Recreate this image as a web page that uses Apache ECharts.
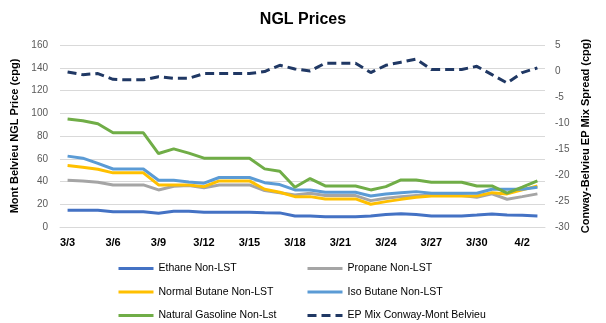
<!DOCTYPE html>
<html>
<head>
<meta charset="utf-8">
<script src="https://cdn.jsdelivr.net/npm/echarts@6/dist/echarts.min.js"></script>
<style>
html,body{margin:0;padding:0;background:#fff;}
#c{width:606px;height:323px;}
</style>
</head>
<body>
<div id="c"></div>
<script>
const dates = ['3/3','3/4','3/5','3/6','3/7','3/8','3/9','3/10','3/11','3/12','3/13','3/14','3/15','3/16','3/17','3/18','3/19','3/20','3/21','3/22','3/23','3/24','3/25','3/26','3/27','3/28','3/29','3/30','3/31','4/1','4/2','4/3'];
const ethane = [14.7,14.7,14.7,13.5,13.5,13.5,12.0,13.8,13.8,12.9,12.9,12.9,12.9,12.6,12.4,9.7,9.7,9.1,9.0,9.0,9.7,10.9,11.7,10.9,9.7,9.7,9.7,10.5,11.4,10.5,10.3,9.7];
const propane = [41.1,40.5,39.4,37,37,37,32.6,35.8,36.5,34.4,37,37,37,32,30.2,28.2,29.7,27.6,27.6,27.6,23.2,25.3,26.7,27.6,27.6,27.6,27.6,26.1,29.1,24.4,26.7,29.1];
const normalButane = [54,52.6,50.8,47.6,47.6,47.6,37,37,37,35.5,40.5,40.5,40.5,33.2,30.5,26.7,26.7,24.7,24.7,24.7,20,22.3,24.3,26.1,27.3,27.3,27.3,27.3,30.2,29.1,32.6,36.1];
const isoButane = [62.3,60.5,56,51,51,51,41.1,41.1,39.6,38.5,43.5,43.5,43.5,39,37.3,32.6,32.6,30.5,30.5,30.5,27.3,29,30.2,31.1,29.7,29.7,29.7,29.7,33.2,33.2,33.2,35];
const naturalGasoline = [95,93.4,90.7,82.8,82.8,82.8,64.6,68.7,64.9,60.5,60.5,60.5,60.5,51.1,49,35,42.6,36.1,36.1,36.1,32.6,35.5,41.4,41.4,39.4,39.4,39.4,36.1,36.1,29.7,35,40.5];
const epMix = [-0.2,-0.7,-0.5,-1.6,-1.7,-1.7,-1.1,-1.4,-1.4,-0.5,-0.5,-0.5,-0.5,-0.1,1.1,0.4,0.0,1.5,1.5,1.5,-0.3,1.1,1.7,2.3,0.3,0.3,0.3,0.9,-0.7,-2.3,-0.3,0.6];

const FONT = 'Liberation Sans';
const chart = echarts.init(document.getElementById('c'), null, {renderer:'canvas'});
function line(name, data, color, yIdx, dashed) {
  return {
    name: name, type: 'line', data: data, yAxisIndex: yIdx,
    symbol: 'none', smooth: false,
    lineStyle: {color: color, width: 3, type: dashed ? [9,5] : 'solid', cap: 'butt'},
    itemStyle: {color: color},
    emphasis: {disabled: true}
  };
}
const legendText = {fontFamily: FONT, fontSize: 10.5, color: '#000'};
const legendBase = {orient: 'vertical', top: 263, height: 80, itemWidth: 35, itemHeight: 12, itemGap: 12.5,
  itemStyle: {opacity: 0}, lineStyle: {width: 3}, textStyle: legendText, padding: 0};
chart.setOption({
  animation: false,
  backgroundColor: '#fff',
  title: {text: 'NGL Prices', left: 'center', top: 7,
    textStyle: {fontFamily: FONT, fontSize: 16, fontWeight: 'bold', color: '#000'}},
  grid: {left: 60, right: 61, top: 45, bottom: 96},
  legend: [
    Object.assign({left: 117, data: ['Ethane Non-LST','Normal Butane Non-LST','Natural Gasoline Non-Lst']}, legendBase),
    Object.assign({left: 306, data: ['Propane Non-LST','Iso Butane Non-LST','EP Mix Conway-Mont Belvieu']}, legendBase)
  ],
  xAxis: {
    type: 'category', data: dates, boundaryGap: true,
    axisLine: {show: true, lineStyle: {color: '#d9d9d9', width: 1}},
    axisTick: {show: false},
    axisLabel: {interval: 2, margin: 10, fontFamily: FONT, fontSize: 11, fontWeight: 'bold', color: '#000'}
  },
  yAxis: [
    {type: 'value', min: 0, max: 160, interval: 20,
     name: 'Mont Belvieu NGL Price (cpg)', nameLocation: 'middle', nameRotate: 90, nameGap: 33,
     nameTextStyle: {fontFamily: FONT, fontSize: 11, fontWeight: 'bold', color: '#000'},
     axisLine: {show: false}, axisTick: {show: false},
     splitLine: {show: true, lineStyle: {color: '#d9d9d9', width: 1}},
     axisLabel: {margin: 12, fontFamily: FONT, fontSize: 10, color: '#595959'}},
    {type: 'value', min: -30, max: 5, interval: 5, position: 'right',
     name: 'Conway-Belvieu EP Mix Spread (cpg)', nameLocation: 'middle', nameRotate: 90, nameGap: 31,
     nameTextStyle: {fontFamily: FONT, fontSize: 11, fontWeight: 'bold', color: '#000'},
     axisLine: {show: false}, axisTick: {show: false}, splitLine: {show: false},
     axisLabel: {margin: 10, fontFamily: FONT, fontSize: 10, color: '#595959'}}
  ],
  series: [
    line('Ethane Non-LST', ethane, '#4472C4', 0, false),
    line('Propane Non-LST', propane, '#A5A5A5', 0, false),
    line('Normal Butane Non-LST', normalButane, '#FFC000', 0, false),
    line('Iso Butane Non-LST', isoButane, '#5B9BD5', 0, false),
    line('Natural Gasoline Non-Lst', naturalGasoline, '#70AD47', 0, false),
    line('EP Mix Conway-Mont Belvieu', epMix, '#203864', 1, true)
  ]
});
</script>
</body>
</html>
